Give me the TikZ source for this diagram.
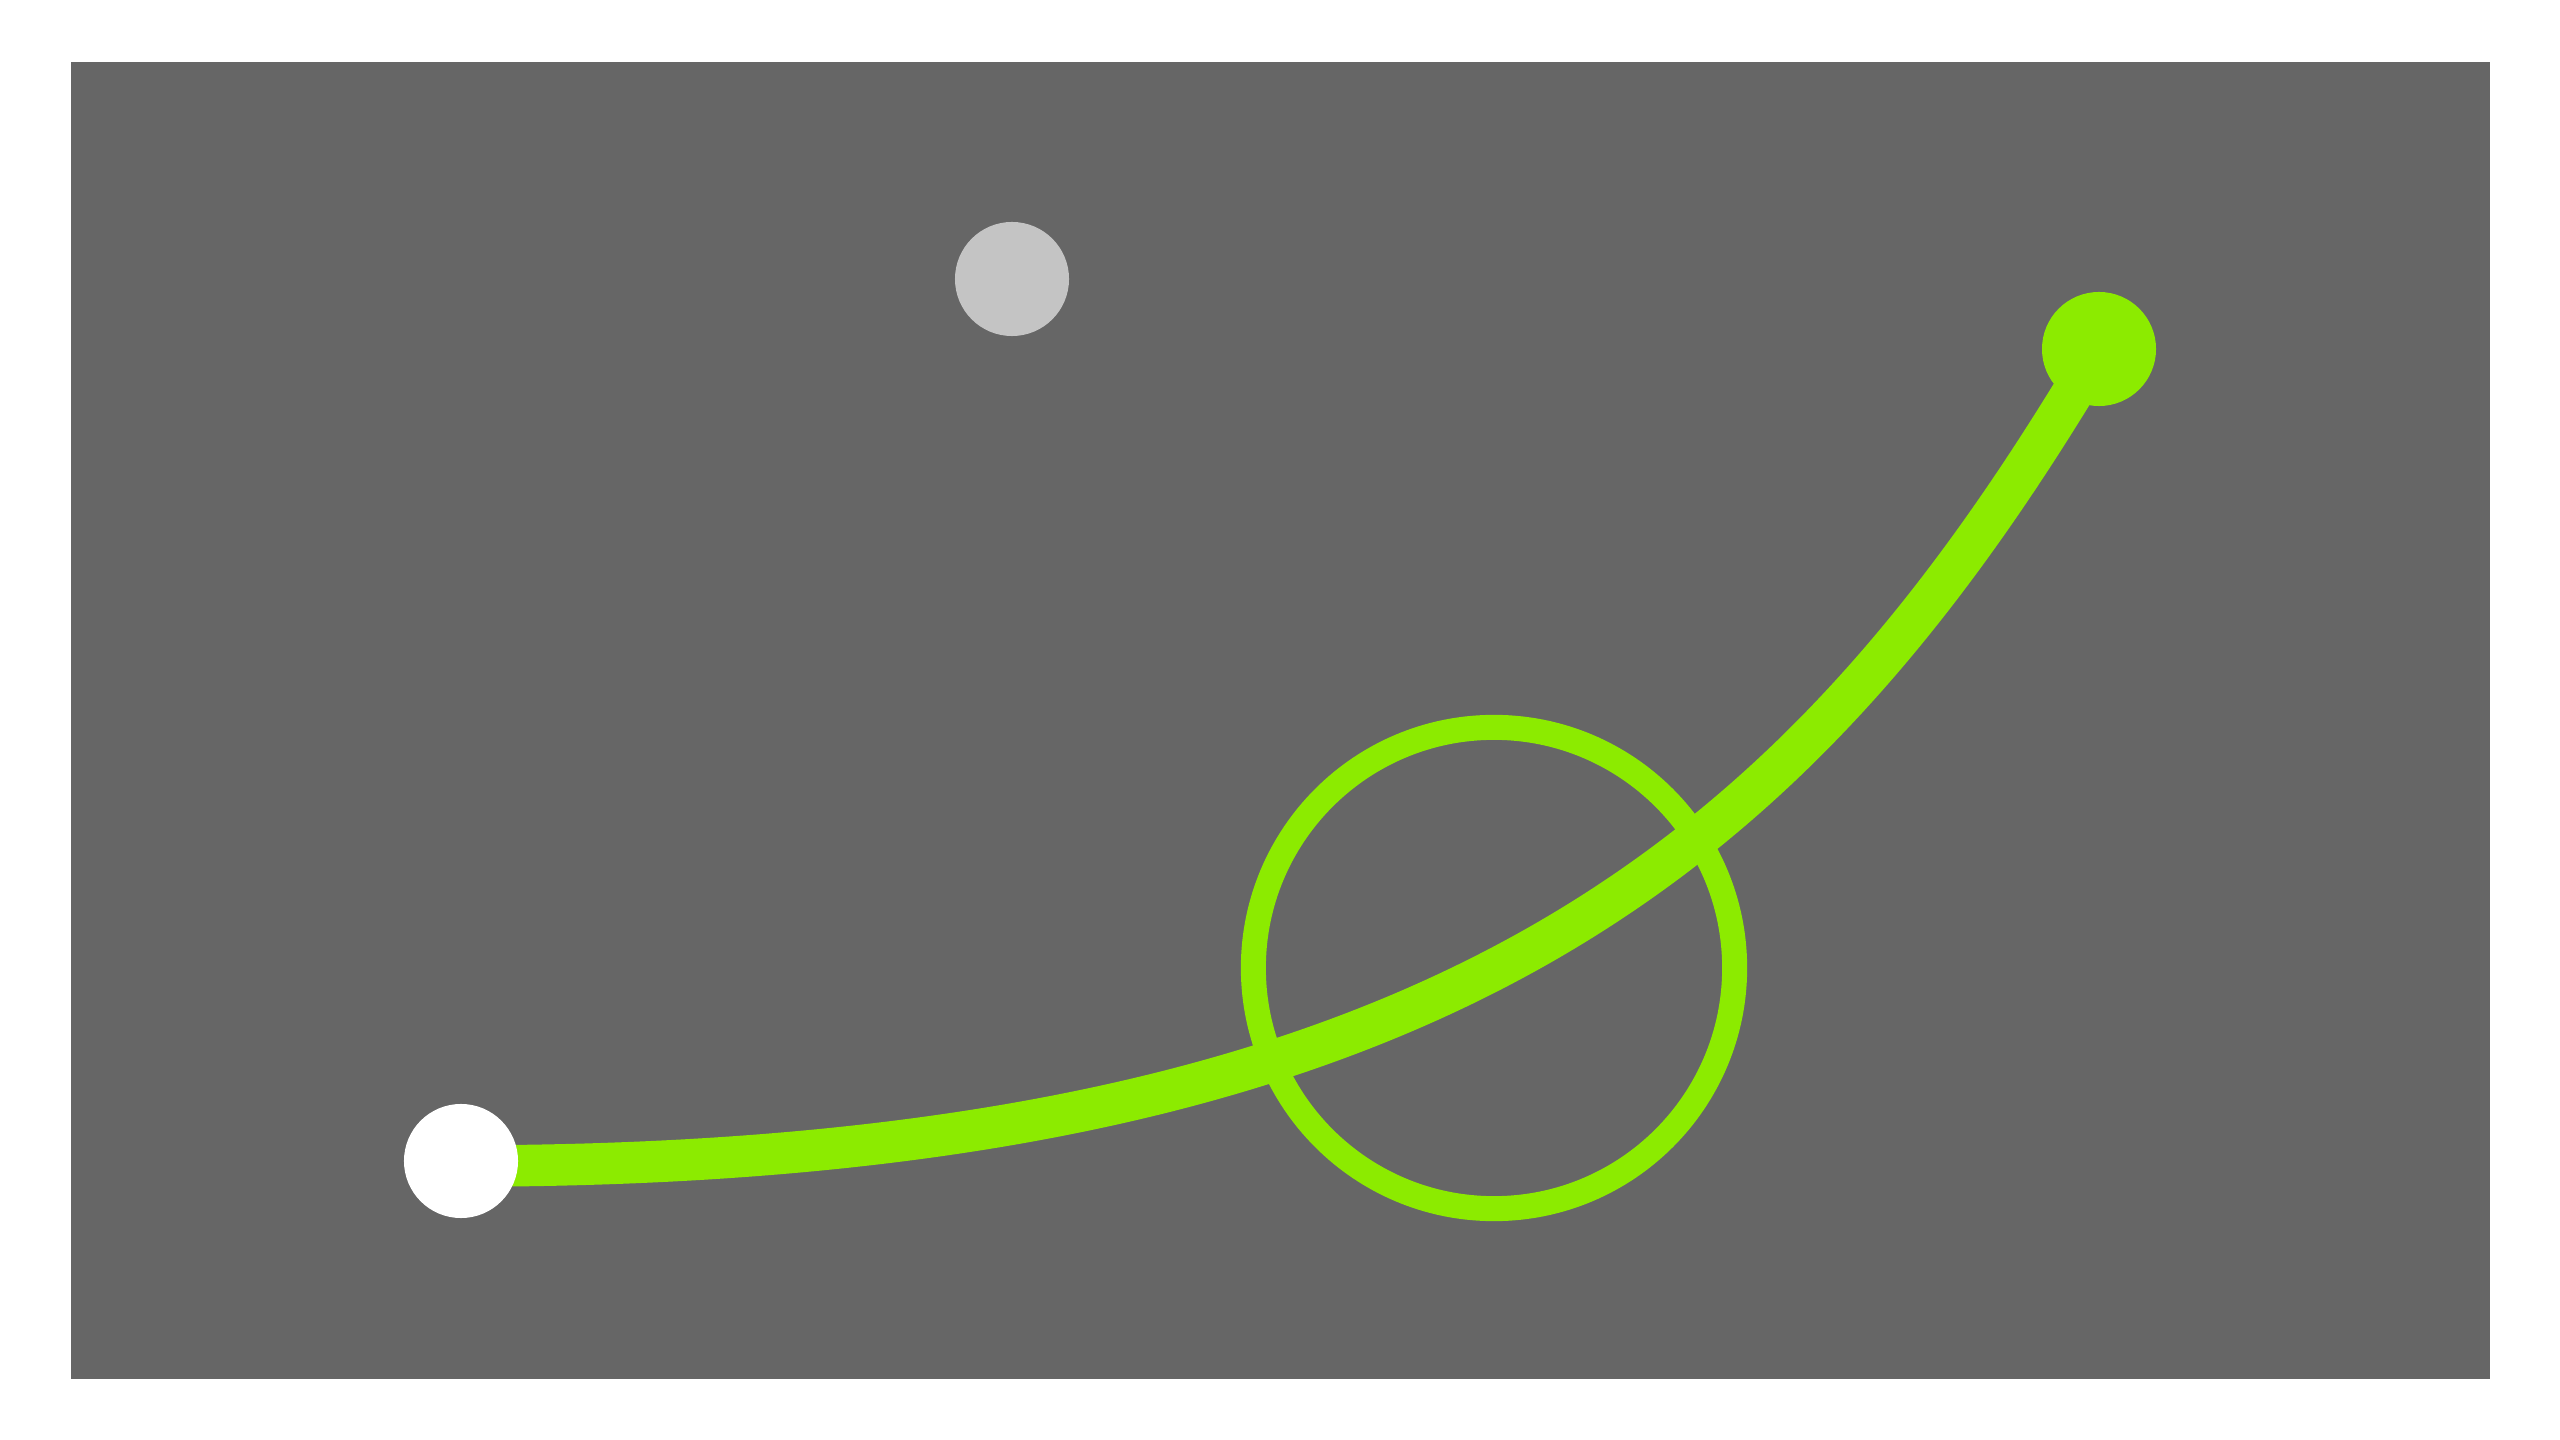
\documentclass[tikz,border=0pt]{standalone}
\usepackage{tikz}
\usetikzlibrary{calc}
\definecolor{panelgray}{HTML}{666666}
\definecolor{dotgray}{HTML}{C4C4C4}
\definecolor{lime}{HTML}{8CEB00}

\begin{document}
\begin{tikzpicture}[x=0.01cm,y=-0.01cm,
  dot/.style={circle,inner sep=0pt,minimum size=1.14cm},
  halo/.style={circle,draw=lime,line width=0.25cm,inner sep=0pt,minimum size=4.81cm}]
  \useasboundingbox (0,0) rectangle (2560,1440);
  \fill[panelgray] (71,62) rectangle (2490,1379);
  % end points of the curve
  \coordinate (start) at (461,1166);
  \coordinate (end) at (2099,349);
  \draw[lime,line width=0.415cm] (start) .. controls (1451,1166) and (1803,848) .. (end);
  \node[halo] (ring) at (1494,968) {};
  \node[dot,fill=dotgray] (idle) at (1012,279) {};
  \node[dot,fill=white] (startdot) at (461,1161) {};
  \node[dot,fill=lime] (enddot) at (end) {};
\end{tikzpicture}
\end{document}
